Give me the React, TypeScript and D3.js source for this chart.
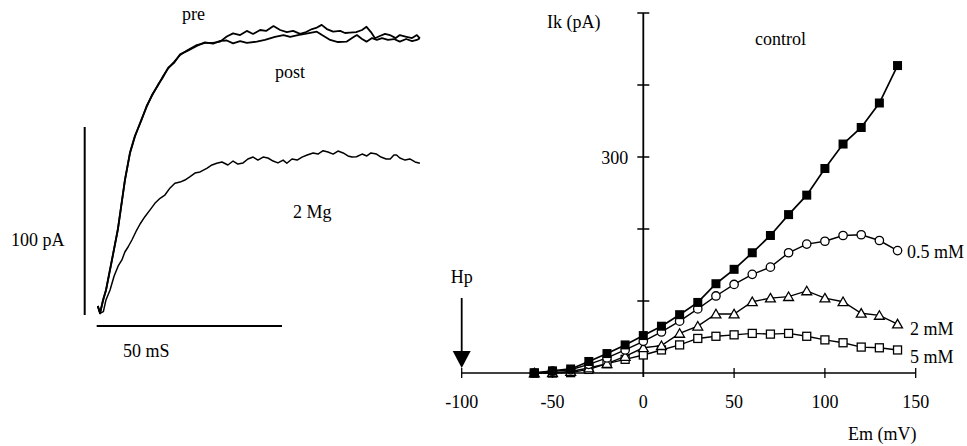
import * as d3 from "d3";

// ---- left panel: current traces (time in ms, current in pA) ----
const preT = [0.3, 0.9, 1.7, 2.5, 4.1, 5.7, 7.6, 9.0, 10.3, 12.0, 13.5, 14.9, 16.6, 17.9, 19.3, 20.9, 22.5, 24.6, 27.0, 29.2, 31.4, 33.3, 35.1,
  36.8, 38.7, 40.5, 42.2, 44.1, 45.7, 47.7, 49.5, 51.3, 53.0, 54.9, 56.5, 58.1, 59.2, 60.7, 62.1, 63.8, 65.7, 67.0, 68.3, 70.0, 71.6, 72.8, 74.0, 75.1, 76.4, 77.8, 79.1, 80.7, 81.8, 83.6, 85.1, 86.4, 87.2];
const preI = [4.8, 0.9, 8.0, 13.3, 29.3, 45.2, 71.8, 86.2, 94.8, 103.7, 110.8, 117.0, 122.3, 127.0, 131.2, 134.6, 138.3, 141.0, 143.6, 144.7, 144.7, 145.4, 148.1,
  149.8, 148.9, 151.1, 149.5, 151.6, 151.1, 153.7, 151.6, 150.5, 151.1, 149.5, 150.5, 152.1, 152.7, 154.3, 152.1, 150.7, 151.1, 150.0, 150.2, 150.5, 151.6, 153.3, 150.5, 147.2, 148.4, 149.5, 148.9, 147.3, 148.9, 148.0, 147.3, 148.9, 147.2];

const postT = [0.3, 0.9, 1.7, 2.5, 4.1, 5.7, 7.6, 9.0, 10.3, 12.0, 13.5, 14.9, 16.6, 17.9, 19.3, 20.9, 22.5, 24.6, 27.0, 29.2, 31.4, 33.3, 35.1,
  36.8, 38.7, 40.5, 43.2, 45.4, 48.1, 50.4, 52.2, 54.3, 56.2, 59.4, 60.8, 63.0, 65.1, 67.4, 68.9, 70.2, 71.6, 72.8, 74.3, 75.6, 77.0, 78.6, 80.2, 81.8, 83.5, 85.1, 86.4, 87.2];
const postI = [4.8, 0.9, 7.6, 13.0, 29.0, 45.6, 71.3, 86.6, 95.2, 103.2, 111.3, 116.6, 122.7, 126.5, 131.6, 134.2, 138.7, 140.6, 143.1, 145.0, 144.3, 145.8, 146.0,
  144.5, 145.7, 144.7, 145.4, 146.3, 147.9, 148.9, 147.9, 148.9, 149.5, 150.7, 148.9, 146.3, 145.2, 145.4, 147.3, 148.9, 146.8, 145.4, 147.3, 146.3, 147.3, 146.3, 146.8, 145.4, 146.8, 145.7, 146.3, 147.2];

const mgT = [0.3, 0.9, 1.8, 2.5, 3.6, 4.7, 5.8, 6.8, 7.6, 8.5, 9.5, 10.8, 11.7, 13.0, 14.4, 15.7, 17.1, 18.4, 19.8, 21.1, 22.5, 23.8, 25.2, 26.5, 27.9, 29.7, 31.1, 32.4, 33.8, 35.4,
  36.8, 38.1, 39.5, 40.8, 42.2, 43.5, 44.9, 46.2, 47.6, 48.9, 50.3, 51.3, 52.7, 54.1, 55.4, 56.8, 58.4, 59.7, 61.1, 62.4, 63.8, 65.1, 66.5, 67.8, 68.9, 70.1, 71.6, 72.9, 74.0, 75.5, 76.7, 78.1, 79.2, 80.2, 80.9, 81.8, 83.2, 84.5, 85.9, 87.2];
const mgI = [4.8, 0.9, 1.8, 8.0, 13.3, 20.7, 26.1, 29.3, 33.5, 36.3, 39.9, 45.2, 48.4, 52.3, 55.9, 59.4, 62.1, 63.8, 67.6, 70.1, 70.7, 71.8, 73.6, 75.5, 76.1, 78.0, 79.8, 80.7, 81.4, 79.8,
  81.9, 80.3, 80.9, 83.0, 84.0, 82.4, 84.0, 83.5, 81.9, 80.9, 82.4, 80.7, 83.0, 82.4, 84.0, 85.1, 86.2, 85.6, 87.4, 86.7, 85.6, 87.2, 86.2, 84.6, 84.0, 84.2, 85.6, 84.6, 86.2, 85.6, 84.0, 83.0, 83.0, 85.1, 85.1, 83.5, 82.4, 83.0, 81.4, 80.7];

// ---- right panel: I-V curves (Em in mV, Ik in pA) ----
const em = [-60, -50, -40, -30, -20, -10, 0, 10, 20, 30, 40, 50, 60, 70, 80, 90, 100, 110, 120, 130, 140];
const control = [0, 3, 5.6, 16, 27, 39, 52, 65, 81, 98, 124, 144, 167, 191, 220, 247, 284, 318, 341, 375, 427];
const mM05 = [0, 2.5, 4.5, 12, 21, 32, 44, 57, 72, 89, 107, 123, 137, 147, 167, 179, 183, 191, 192, 184, 170];
const mM2 = [0, 0.5, 2, 7, 13, 23, 35, 38, 55, 65, 82, 82, 99, 104, 106, 114, 104, 99, 83, 80, 68];
const mM5 = [0, 0, 0.5, 5, 13, 19, 25, 32, 39, 48, 51, 53, 55, 54, 55, 51, 46, 42, 36, 35, 32];

const yTicks = [100, 200, 300, 400, 500];
const yLabels = [300];
const xTicks = [-100, -50, 50, 100, 150];
const xLabels = [-100, -50, 0, 50, 100, 150];

const font = "Liberation Serif, DejaVu Serif, serif";

export default function App() {
  const xT = d3.scaleLinear().domain([0, 50]).range([96.7, 282]);
  const yI = d3.scaleLinear().domain([0, 100]).range([315, 127]);

  const xV = d3.scaleLinear().domain([-100, 150]).range([461.7, 915.7]);
  const yK = d3.scaleLinear().domain([0, 500]).range([373, 13]);

  const trace = (ts: number[], is: number[]) =>
    d3.line<number>().x((_, i) => xT(ts[i])).y((_, i) => yI(is[i]))(ts) || "";
  const ivLine = (vals: number[]) =>
    d3.line<number>().x((_, i) => xV(em[i])).y((d) => yK(d))(vals) || "";
  const tri = d3.symbol(d3.symbolTriangle, 42)() || "";

  const x0 = xV(0);
  const y0 = yK(0);
  const hpX = xV(-100);

  return (
    <svg width={967} height={446}
      style={{ position: "absolute", left: 0, top: 0, background: "#fff", fontFamily: font, fontSize: 18 }}>
      {/* left panel */}
      <g fill="none" stroke="#000" strokeWidth={1.8} strokeLinejoin="round">
        <path d={trace(postT, postI)} />
        <path d={trace(preT, preI)} />
        <path d={trace(mgT, mgI)} strokeWidth={1.5} />
      </g>
      <line x1={xT(0) - 12} x2={xT(0) - 12} y1={yI(0)} y2={yI(100)} stroke="#000" strokeWidth={2} />
      <line x1={xT(0)} x2={xT(50)} y1={yI(0) + 11} y2={yI(0) + 11} stroke="#000" strokeWidth={2} />
      <text x={11} y={246}>100 pA</text>
      <text x={123} y={357}>50 mS</text>
      <text x={182} y={20}>pre</text>
      <text x={275} y={78}>post</text>
      <text x={293} y={218}>2 Mg</text>

      {/* right panel axes */}
      <g stroke="#000">
        <line x1={hpX} x2={xV(150)} y1={y0} y2={y0} strokeWidth={1.6} />
        <line x1={x0} x2={x0} y1={yK(500)} y2={y0 + 4} strokeWidth={1.8} />
        {yTicks.map((t) => (
          <line key={t} x1={x0 - 6} x2={x0 + 6} y1={yK(t)} y2={yK(t)} strokeWidth={1.5} />
        ))}
        {xTicks.map((t) => (
          <line key={t} x1={xV(t)} x2={xV(t)} y1={y0 - 5} y2={y0 + 5} strokeWidth={1.3} />
        ))}
      </g>
      {yLabels.map((t) => (
        <text key={t} x={x0 - 15} y={yK(t) + 7} textAnchor="end">{t}</text>
      ))}
      {xLabels.map((t) => (
        <text key={t} x={xV(t)} y={y0 + 35} textAnchor="middle">{t}</text>
      ))}
      <text x={547} y={28}>Ik (pA)</text>
      <text x={848} y={440}>Em (mV)</text>
      <text x={755} y={45}>control</text>
      <text x={907} y={258}>0.5 mM</text>
      <text x={910} y={335}>2 mM</text>
      <text x={910} y={363}>5 mM</text>

      {/* Hp arrow */}
      <text x={hpX} y={283} textAnchor="middle">Hp</text>
      <line x1={hpX} x2={hpX} y1={298} y2={y0 - 20} stroke="#000" strokeWidth={1.8} />
      <path d={`M${hpX - 9},${y0 - 22}L${hpX + 9},${y0 - 22}L${hpX},${y0 - 5}Z`} fill="#000" />

      {/* I-V curves */}
      <g fill="none" stroke="#000" strokeWidth={1.4}>
        <path d={ivLine(mM5)} />
        <path d={ivLine(mM2)} />
        <path d={ivLine(mM05)} />
        <path d={ivLine(control)} strokeWidth={1.7} />
      </g>
      {mM5.map((d, i) => (
        <rect key={"s" + i} x={xV(em[i]) - 4} y={yK(d) - 4} width={8} height={8} fill="#fff" stroke="#000" strokeWidth={1.3} />
      ))}
      {mM2.map((d, i) => (
        <path key={"t" + i} d={tri} transform={`translate(${xV(em[i])},${yK(d) + 1})`} fill="#fff" stroke="#000" strokeWidth={1.3} />
      ))}
      {mM05.map((d, i) => (
        <circle key={"c" + i} cx={xV(em[i])} cy={yK(d)} r={4.2} fill="#fff" stroke="#000" strokeWidth={1.3} />
      ))}
      {control.map((d, i) => (
        <rect key={"f" + i} x={xV(em[i]) - 4.5} y={yK(d) - 4.5} width={9} height={9} fill="#000" />
      ))}
    </svg>
  );
}
